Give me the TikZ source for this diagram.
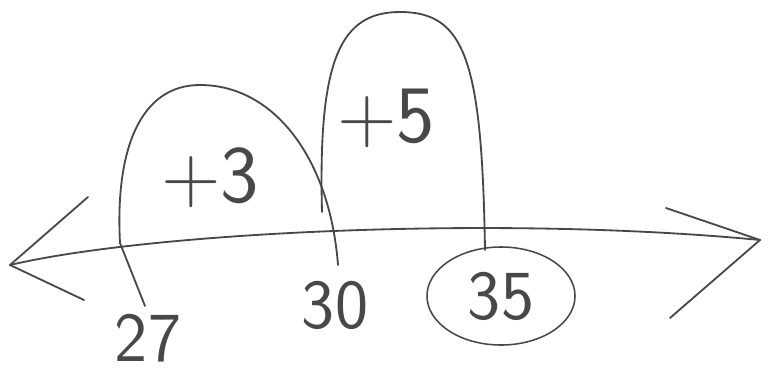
\documentclass[tikz,border=0pt]{standalone}
\definecolor{pencilgray}{RGB}{72,72,72}
\usepackage{tikz}
\usetikzlibrary{positioning,calc,shapes.geometric}

\begin{document}
\begin{tikzpicture}[x=0.025cm, y=-0.025cm,
    stroke/.style={draw=pencilgray, line width=1.3pt, line cap=round, line join=round},
    numlabel/.style={text=pencilgray, inner sep=0pt, font=\sffamily\fontsize{50}{54}\selectfont},
    jumplabel/.style={text=pencilgray, inner sep=0pt, font=\sffamily\fontsize{58}{62}\selectfont}]

\useasboundingbox (0,0) rectangle (768,376);

% Number line
\coordinate (left) at (10,265);
\coordinate (right) at (760,240);
\coordinate (lefttop) at (88,197);
\coordinate (leftbot) at (84,300);
\coordinate (righttop) at (666,208);
\coordinate (rightbot) at (670,318);
\draw[stroke] (left) .. controls (150,232) and (500,215) .. (right);
\draw[stroke] (lefttop) -- (left) -- (leftbot);
\draw[stroke] (righttop) -- (right) -- (rightbot);

% Numbers
\node[numlabel] (n27) at (148,338) {27};
\node[numlabel] (n30) at (335,305) {30};
\node[numlabel, ellipse, draw=pencilgray, line width=1.1pt,
      minimum width=3.7cm, minimum height=2.45cm] (n35) at (501,296) {35};

% Ticks
\coordinate (t27) at (120,243);
\coordinate (t27end) at (145,306);
\coordinate (t30) at (338,265);
\coordinate (t35) at (485,250);
\draw[stroke] (t27) -- (t27end);

% Jumps
\draw[stroke] (t27) .. controls (115,150) and (140,85) .. (200,85)
              .. controls (275,85) and (330,160) .. (t30);
\coordinate (hop) at (322,212);
\draw[stroke] (hop) .. controls (318,60) and (340,12) .. (400,12)
              .. controls (465,12) and (482,60) .. (t35);

\node[jumplabel] (plus3) at (210,178) {+3};
\node[jumplabel] (plus5) at (386,118) {+5};
\end{tikzpicture}
\end{document}
